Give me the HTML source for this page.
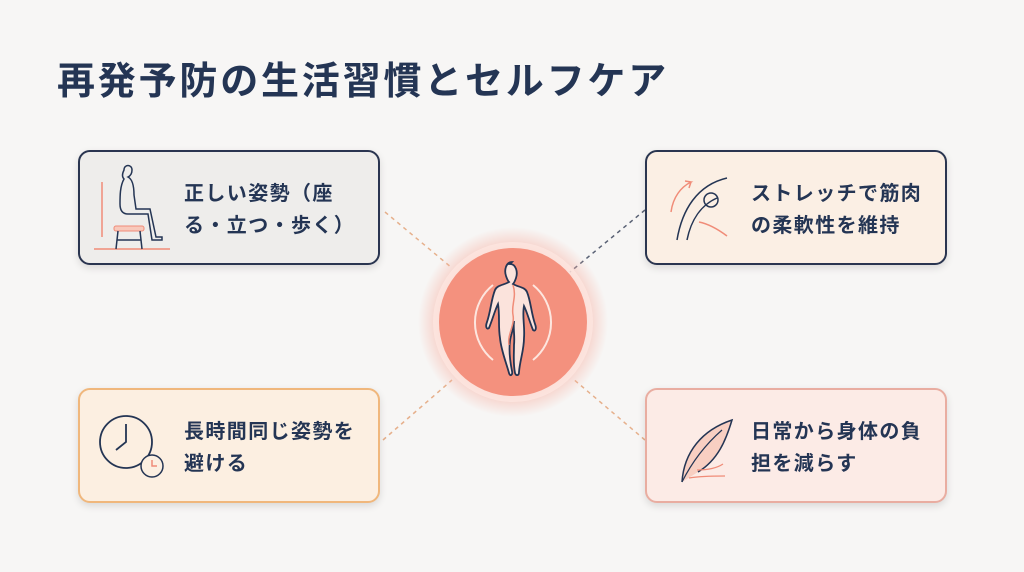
<!DOCTYPE html>
<html><head><meta charset="utf-8"><style>
body{margin:0;width:1024px;height:572px;background:#f7f6f5;position:relative;overflow:hidden;font-family:"Liberation Sans","Noto Sans CJK JP",sans-serif;}
.t{position:absolute;left:57px;top:50px;font-size:38px;font-weight:bold;color:#243554;letter-spacing:2.8px;white-space:nowrap}
.b{position:absolute;width:302px;height:115px;border-radius:12px;box-sizing:border-box;box-shadow:0 3px 8px rgba(0,0,0,0.12)}
.b .x{position:absolute;left:104px;top:26px;font-size:20px;font-weight:bold;color:#243554;line-height:32px;letter-spacing:1.4px;white-space:nowrap}
svg{position:absolute;left:0;top:0}
</style></head><body>
<div class="t">再発予防の生活習慣とセルフケア</div>
<svg width="1024" height="572">
<defs><radialGradient id="g"><stop offset="0.7" stop-color="#f7b3a5" stop-opacity="0.8"/><stop offset="1" stop-color="#f7b3a5" stop-opacity="0"/></radialGradient></defs>
<line x1="385" y1="212" x2="452" y2="268" stroke="#e6b08c" stroke-width="1.5" stroke-dasharray="4 4"/>
<line x1="645" y1="210" x2="570" y2="272" stroke="#5a6275" stroke-width="1.5" stroke-dasharray="4 4"/>
<line x1="383" y1="440" x2="452" y2="380" stroke="#e6b08c" stroke-width="1.5" stroke-dasharray="4 4"/>
<line x1="645" y1="440" x2="572" y2="378" stroke="#e6b08c" stroke-width="1.5" stroke-dasharray="4 4"/>
<circle cx="513" cy="322" r="95" fill="url(#g)"/>
<circle cx="513" cy="322" r="80" fill="#fde8e2" opacity="0.7"/>
<circle cx="513" cy="322" r="74" fill="#f4917e"/>
<path d="M493 285 A48 48 0 0 0 493 360 M533 285 A48 48 0 0 1 533 360" stroke="#fde6df" stroke-width="2" fill="none"/>
<path d="M512 262c-6 0-8 8-6 14 1 3 2 5 3 6-5 3-12 3-14 8-4 10-4 20-8 32-2 5 0 8 2 6 4-10 6-18 9-24 2 12 0 22 2 34 1 12 6 24 9 35 1 4 4 2 3-2-2-10-3-22-2-30 1-8 4-12 4-20-1 8 1 14 0 24 0 10-1 18 1 28 1 3 4 3 4-1 1-12 5-22 5-34 1-12-2-22 0-32 3 6 5 14 9 24 2 2 4-1 2-6-4-12-4-22-8-32-2-5-9-5-14-8 1-1 2-3 3-6 2-6 0-14-6-14z" fill="#fbe3dc" stroke="#243554" stroke-width="1.8"/>
<path d="M513 285c4 12-2 20 0 30 2 10-6 20-4 30" stroke="#f08c78" stroke-width="1.5" fill="none"/>
</svg>
<div class="b" style="left:78px;top:150px;background:#eeedeb;border:2px solid #2a3550"><div class="x">正しい姿勢（座<br>る・立つ・歩く）</div>
<svg width="100" height="113" style="left:0;top:0"><line x1="22" y1="30" x2="22" y2="85" stroke="#f08c78" stroke-width="1.5"/><line x1="14" y1="97" x2="90" y2="97" stroke="#f08c78" stroke-width="1.5"/><rect x="34" y="74" width="30" height="5" rx="2" fill="#f8c9bb" stroke="#f08c78"/><path d="M38 79 L36 97 M60 79 L62 97 M37 88 H61" stroke="#243554" stroke-width="1.5"/><path d="M44 18c0-6 8-6 8 0 0 4-2 6-4 7 4 2 6 8 6 18l2 14h14l6 28h6v3h-10l-4-26h-20c-6 0-8-4-8-10 0-8 0-18 4-25-2-2-2-5 0-9z" fill="none" stroke="#243554" stroke-width="1.5"/></svg></div>
<div class="b" style="left:645px;top:150px;background:#fbefe4;border:2px solid #2a3550"><div class="x">ストレッチで筋肉<br>の柔軟性を維持</div>
<svg width="100" height="113" style="left:0;top:0"><path d="M30 88c5-30 20-55 50-62" stroke="#243554" stroke-width="1.5" fill="none"/><path d="M40 88c4-20 14-35 30-42" stroke="#243554" stroke-width="1.5" fill="none"/><circle cx="64" cy="48" r="7" fill="none" stroke="#243554" stroke-width="1.5"/><path d="M52 70c10 2 20 8 28 14" stroke="#f08c78" stroke-width="1.5" fill="none"/><path d="M24 60c2-15 10-25 20-30l-6-1m6 1l-2 6" stroke="#f08c78" stroke-width="1.5" fill="none"/></svg></div>
<div class="b" style="left:78px;top:388px;background:#fcefe1;border:2px solid #f0b77c"><div class="x">長時間同じ姿勢を<br>避ける</div>
<svg width="100" height="113" style="left:0;top:0"><circle cx="46" cy="52" r="26" fill="none" stroke="#243554" stroke-width="1.8"/><path d="M46 34v18l-10 8" stroke="#243554" stroke-width="1.8" fill="none"/><circle cx="72" cy="76" r="11" fill="#fcefe1" stroke="#243554" stroke-width="1.5"/><path d="M72 70v6h5" stroke="#f08c78" stroke-width="1.5" fill="none"/></svg></div>
<div class="b" style="left:645px;top:388px;background:#fcebe6;border:2px solid #e9ada1"><div class="x">日常から身体の負<br>担を減らす</div>
<svg width="100" height="113" style="left:0;top:0"><path d="M35 92c2-30 20-52 50-62-6 20-14 40-34 52" fill="#f8cfc2" stroke="#243554" stroke-width="1.5"/><path d="M35 92c10-20 24-38 40-52" stroke="#243554" stroke-width="1.2" fill="none"/><path d="M42 88c12-2 24-2 36-2M50 80c10 0 20-2 26-6" stroke="#f08c78" stroke-width="1.3" fill="none"/></svg></div>
</body></html>
